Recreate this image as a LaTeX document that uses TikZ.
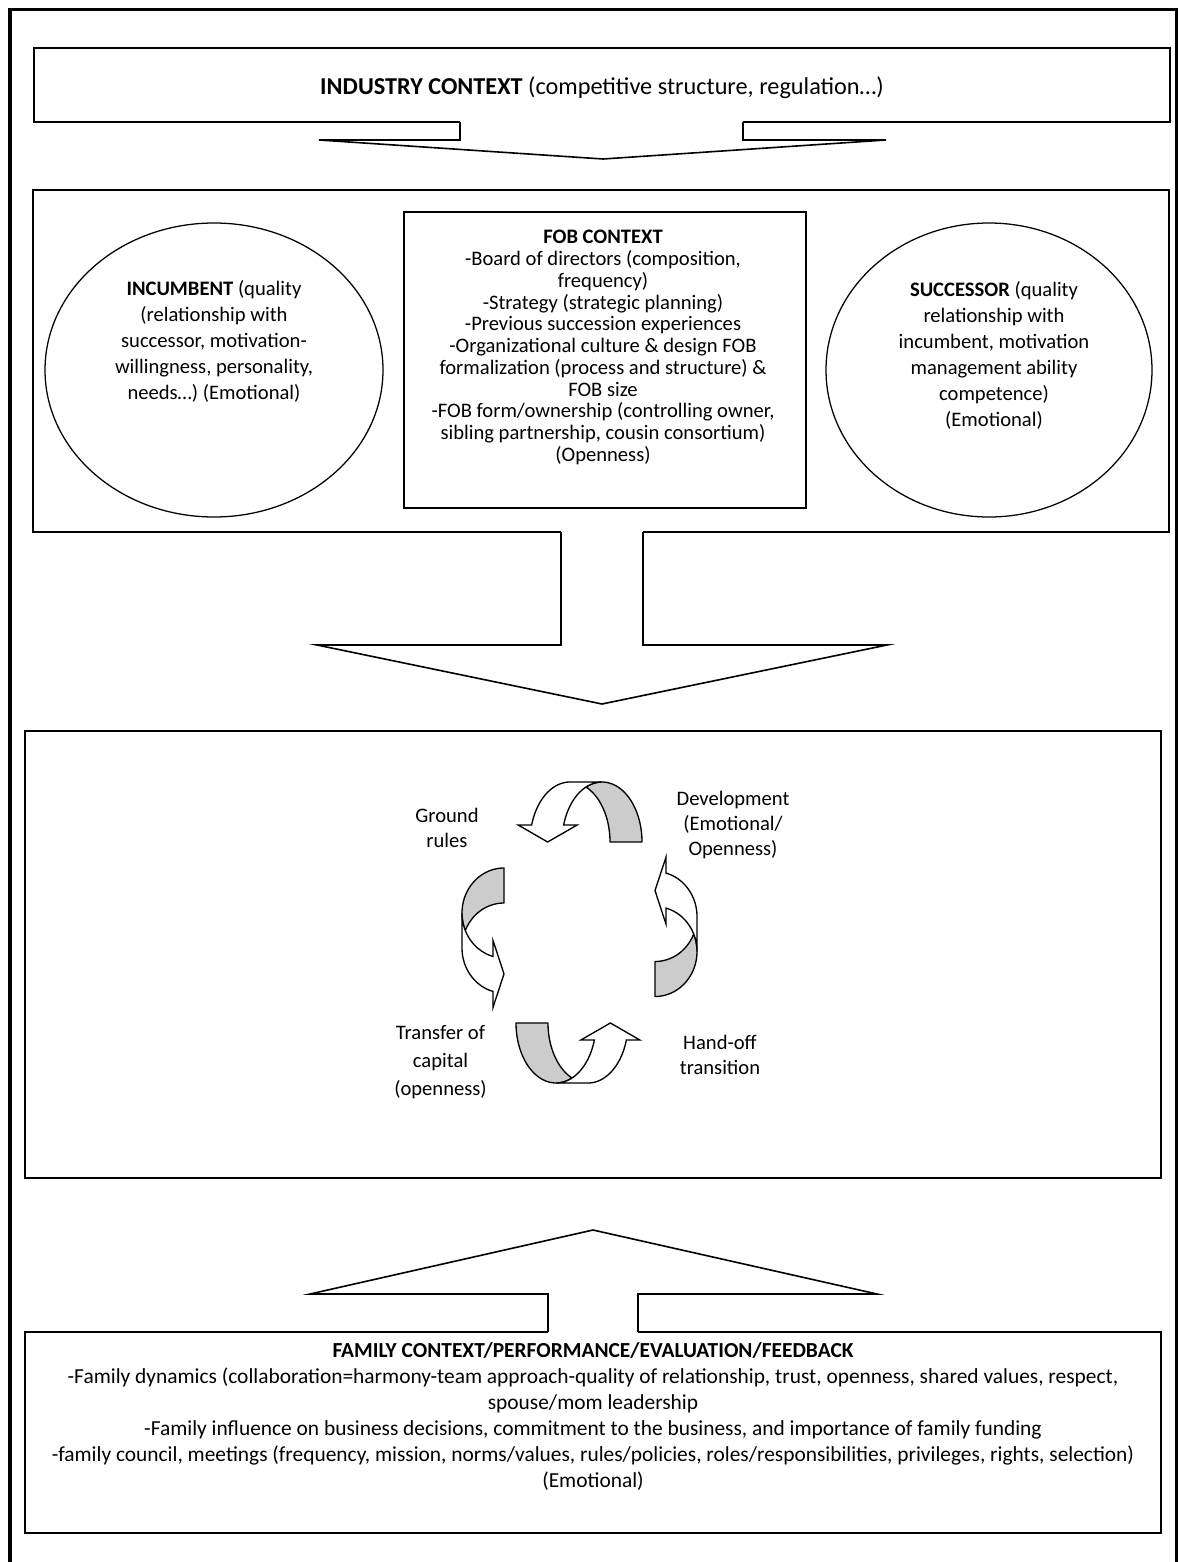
\documentclass[tikz,border=0pt]{standalone}
\usepackage{fontspec}
\setmainfont{Carlito}
\usetikzlibrary{calc,shapes.geometric}
\definecolor{ribbongray}{RGB}{204,204,204}

% Twisted U-shaped ribbon arrow, drawn bulging upwards with both band ends on y=0.
% #1 band width, #2 horizontal radius, #3 height, #4 head width, #5 head length
\newcommand\ribbonarrow[5]{%
  \pgfmathsetmacro\rbHalfTh{#1/2}%
  \pgfmathsetmacro\rbCross{acos(#1/(2*#2))}%
  \pgfmathsetmacro\rbCrossR{180-\rbCross}%
  \pgfmathsetmacro\rbBase{180-asin(#5/#3)}%
  \pgfmathsetmacro\rbTip{#2*cos(\rbBase)}%
  \pgfmathsetmacro\rbHead{#4/2}%
  \filldraw[ribbonback]
    plot[domain=0:\rbCrossR,variable=\t,samples=40] ({\rbHalfTh+#2*cos(\t)},{-#3*sin(\t)})
    -- plot[domain=\rbCross:0,variable=\t,samples=30] ({-\rbHalfTh+#2*cos(\t)},{-#3*sin(\t)})
    -- cycle;
  \filldraw[ribbonfront] (\rbTip,0) -- ({\rbTip-\rbHead},{-#5})
    -- plot[domain=\rbBase:90,variable=\t,samples=30] ({-\rbHalfTh+#2*cos(\t)},{-#3*sin(\t)})
    -- plot[domain=90:\rbBase,variable=\t,samples=30] ({\rbHalfTh+#2*cos(\t)},{-#3*sin(\t)})
    -- ({\rbTip+\rbHead},{-#5}) -- cycle;
}

\begin{document}
\begin{tikzpicture}[x=0.75pt,y=-0.75pt,
  frame/.style={line width=2.6pt},
  box/.style={draw,line width=1.25pt,inner sep=0pt},
  oval/.style={draw,ellipse,line width=0.95pt,inner sep=0pt},
  blockarrow/.style={line width=1.2pt,line join=miter},
  ribbonback/.style={fill=ribbongray,draw,line width=1pt,line join=round},
  ribbonfront/.style={fill=white,draw,line width=1pt,line join=miter},
  lbl/.style={align=center,inner sep=0pt,font=\fontsize{15.45}{19.5}\selectfont},
  fobtext/.style={lbl,font=\fontsize{15.45}{16.3}\selectfont},
  famtext/.style={lbl,font=\fontsize{16.05}{19.5}\selectfont},
  headtext/.style={lbl,font=\fontsize{18.2}{22}\selectfont},
  steplbl/.style={lbl,font=\fontsize{15.45}{18.75}\selectfont},
]
\useasboundingbox (0,0) rectangle (1178,1562);
\fill[white] (0,0) rectangle (1178,1562);
\clip (0,0) rectangle (1178,1562);

% outer frame, open at the bottom
\draw[frame] (10,1600) -- (10,9.5) -- (1176.5,9.5) -- (1176.5,1600);

% industry context
\node[box,minimum width=852pt,minimum height=55.5pt] (ind) at (602,85) {};
\node[headtext,anchor=base] (indtxt) at (602,95)
  {\textbf{INDUSTRY CONTEXT} (competitive structure, regulation…)};

% firm context with incumbent and successor
\node[box,minimum width=852pt,minimum height=256.5pt] (ctx) at (601,361) {};
\node[box,minimum width=301.5pt,minimum height=222pt] (fob) at (605,360) {};
\node[fobtext] (fobtxt) at (603,347.5)
  {\textbf{FOB CONTEXT}\\
   -Board of directors (composition,\\
   frequency)\\
   -Strategy (strategic planning)\\
   -Previous succession experiences\\
   -Organizational culture \& design FOB\\
   formalization (process and structure) \&\\
   FOB size\\
   -FOB form/ownership (controlling owner,\\
   sibling partnership, cousin consortium)\\
   (Openness)};
\node[oval,minimum width=253.5pt,minimum height=220.5pt] (inc) at (214,370) {};
\node[lbl] (inctxt) at (214,341)
  {\textbf{INCUMBENT} (quality\\
   (relationship with\\
   successor, motivation-\\
   willingness, personality,\\
   needs…) (Emotional)};
\node[oval,minimum width=244.5pt,minimum height=220.5pt] (suc) at (989,370) {};
\node[lbl] (suctxt) at (994,355)
  {\textbf{SUCCESSOR} (quality\\
   relationship with\\
   incumbent, motivation\\
   management ability\\
   competence)\\
   (Emotional)};

% succession process
\node[box,minimum width=852pt,minimum height=335.25pt] (proc) at (593,954.5) {};

% family context
\node[box,minimum width=852pt,minimum height=150.75pt] (fam) at (593,1432.5) {};
\node[famtext] (famtxt) at (593,1416.5)
  {\textbf{FAMILY CONTEXT/PERFORMANCE/EVALUATION/FEEDBACK}\\
   -Family dynamics (collaboration=harmony-team approach-quality of relationship, trust, openness, shared values, respect,\\
   spouse/mom leadership\\
   -Family influence on business decisions, commitment to the business, and importance of family funding\\
   -family council, meetings (frequency, mission, norms/values, rules/policies, roles/responsibilities, privileges, rights, selection)\\
   (Emotional)};

% block arrows between the boxes
\fill[white] (460,120) -- (460,140) -- (319,140) -- (603,159) -- (886,140) -- (743,140) -- (743,120) -- cycle;
\draw[blockarrow] (460,122) -- (460,140) -- (319,140) -- (603,159) -- (886,140) -- (743,140) -- (743,122);

\fill[white] (561,530) -- (561,645) -- (317,645) -- (602,704) -- (887,645) -- (643,645) -- (643,530) -- cycle;
\draw[blockarrow] (561,532) -- (561,645) -- (317,645) -- (602,704) -- (887,645) -- (643,645) -- (643,532);

\fill[white] (548,1334) -- (548,1294) -- (310,1294) -- (593,1230) -- (877,1294) -- (638,1294) -- (638,1334) -- cycle;
\draw[blockarrow] (548,1332) -- (548,1294) -- (310,1294) -- (593,1230) -- (877,1294) -- (638,1294) -- (638,1332);

% cycle of four ribbon arrows
\begin{scope}[shift={(586,842)}]\ribbonarrow{32}{40}{60}{59}{17}\end{scope}
\begin{scope}[shift={(504,930.5)},rotate=90]\ribbonarrow{35}{45}{42}{67}{11}\end{scope}
\begin{scope}[shift={(572,1023)},rotate=180]\ribbonarrow{32}{40}{60}{59}{17}\end{scope}
\begin{scope}[shift={(655,934)},rotate=-90]\ribbonarrow{35}{45}{42}{67}{11}\end{scope}

% stage labels
\node[steplbl] (ground) at (447,828) {Ground\\rules};
\node[steplbl] (develop) at (733,825) {Development\\(Emotional/\\Openness)};
\node[steplbl] (handoff) at (720,1055) {Hand-off\\transition};
\node[lbl,font=\fontsize{15.45}{21}\selectfont] (transfer) at (440.5,1062) {Transfer of\\capital\\(openness)};
\end{tikzpicture}
\end{document}
